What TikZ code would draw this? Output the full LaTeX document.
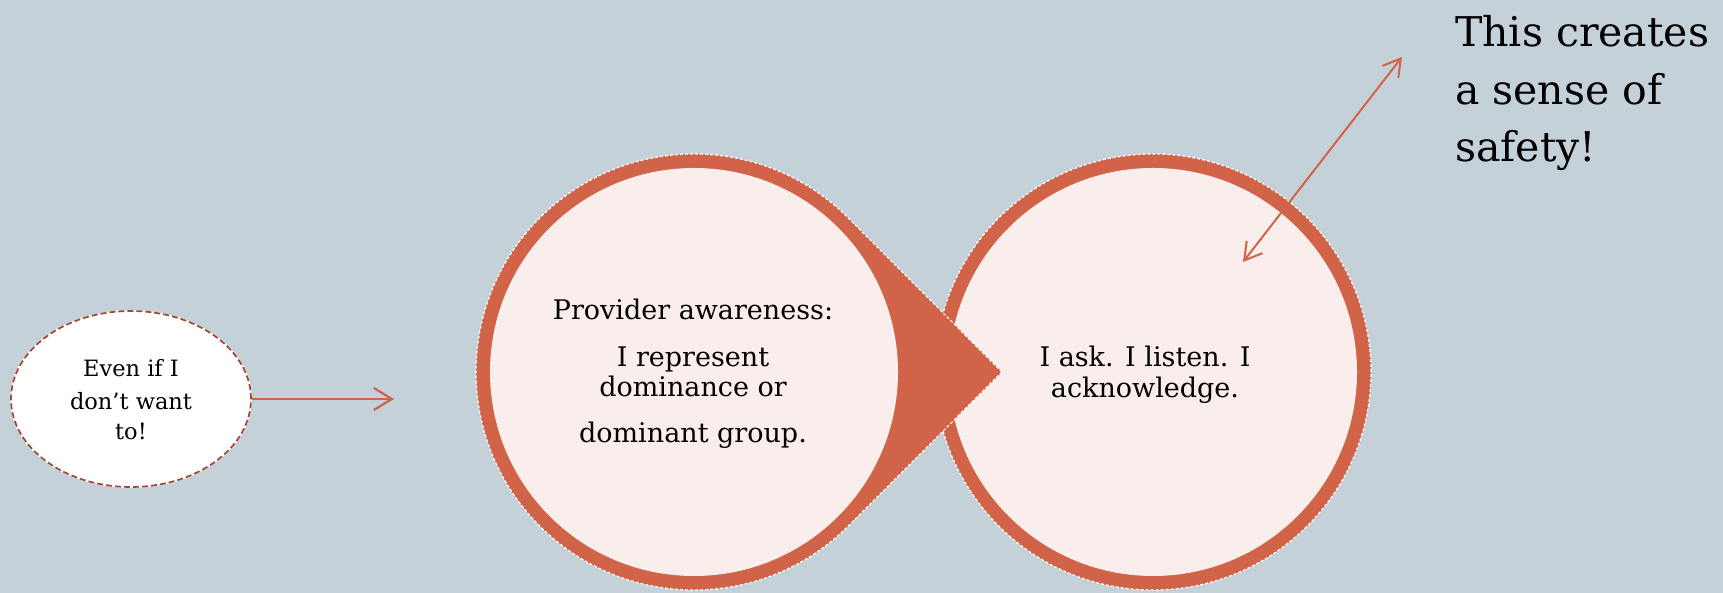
\documentclass[tikz,border=0pt]{standalone}
\usepackage{fontspec}
\setmainfont{DejaVu Serif}
\usetikzlibrary{arrows.meta,shapes.geometric,calc}
\definecolor{bgblue}{HTML}{C5D1D8}
\definecolor{ringred}{HTML}{D16349}
\definecolor{softpink}{HTML}{FAEEEC}
\definecolor{rimbrown}{HTML}{A34634}
\begin{document}
\begin{tikzpicture}[x=1pt,y=1pt,
  txt/.style={anchor=base,inner sep=0pt,text=black},
  ringdisc/.style={circle,inner sep=0pt,minimum size=436pt,fill=ringred},
  innerdisc/.style={circle,inner sep=0pt,minimum size=408pt,fill=softpink},
  whiterim/.style={white,line width=1.2pt,dash pattern=on 3pt off 2pt},
  link/.style={ringred,line width=2.4pt,-{Straight Barb[length=18pt,width=22pt,line width=2.2pt]}},
  twoway/.style={ringred,line width=2pt,{Straight Barb[length=17pt,width=20pt,line width=2pt]}-{Straight Barb[length=17pt,width=20pt,line width=2pt]}}]
\fill[bgblue] (0,0) rectangle (1723,593);
\useasboundingbox (0,0) rectangle (1723,593);

% right ring
\node[ringdisc] (ring2) at (1153,221) {};
\draw[whiterim] (ring2.center) circle[radius=218];
\node[innerdisc] (disc2) at (ring2.center) {};

% left ring with its pointer
\coordinate (c1) at (694,221);
\coordinate (tip) at (1002,221);
\fill[ringred] (tip) -- ($(c1)+(45:218)$) arc[start angle=45,end angle=315,radius=218] -- cycle;
\draw[whiterim] (tip) -- ($(c1)+(45:218)$) arc[start angle=45,end angle=315,radius=218] -- cycle;
\node[innerdisc] (disc1) at (c1) {};

% left ellipse
\node[ellipse,inner sep=0pt,minimum width=240pt,minimum height=176pt,fill=white,draw=white,line width=1.6pt] (wish) at (131,194) {};
\draw[rimbrown,line width=1.7pt,dash pattern=on 6pt off 3pt] (wish.center) ellipse[x radius=120,y radius=88];
\coordinate (wishend) at (394,194);
\draw[link] (wish.east) -- (wishend);

% texts
\begin{scope}[font=\fontsize{22.5}{27}\selectfont]
\node[txt] (e1) at (131,216) {Even if I};
\node[txt] (e2) at (131,183) {don’t want};
\node[txt] (e3) at (131,153) {to!};
\end{scope}
\begin{scope}[font=\fontsize{27}{31}\selectfont]
\node[txt] (p1) at (693,273) {Provider awareness:};
\node[txt] (p2) at (693,226) {I represent};
\node[txt] (p3) at (693,196) {dominance or};
\node[txt] (p4) at (693,150) {dominant group.};
\node[txt] (q1) at (1145,226) {I ask. I listen. I};
\node[txt] (q2) at (1145,195) {acknowledge.};
\end{scope}
\begin{scope}[font=\fontsize{41}{49}\selectfont]
\node[txt,anchor=base west] (s1) at (1455,546) {This creates};
\node[txt,anchor=base west] (s2) at (1455,488) {a sense of};
\node[txt,anchor=base west] (s3) at (1455,431) {safety!};
\end{scope}

% double arrow
\coordinate (inner) at (1243,331);
\coordinate (outer) at (1402,536);
\draw[twoway] (inner) -- (outer);
\end{tikzpicture}
\end{document}
